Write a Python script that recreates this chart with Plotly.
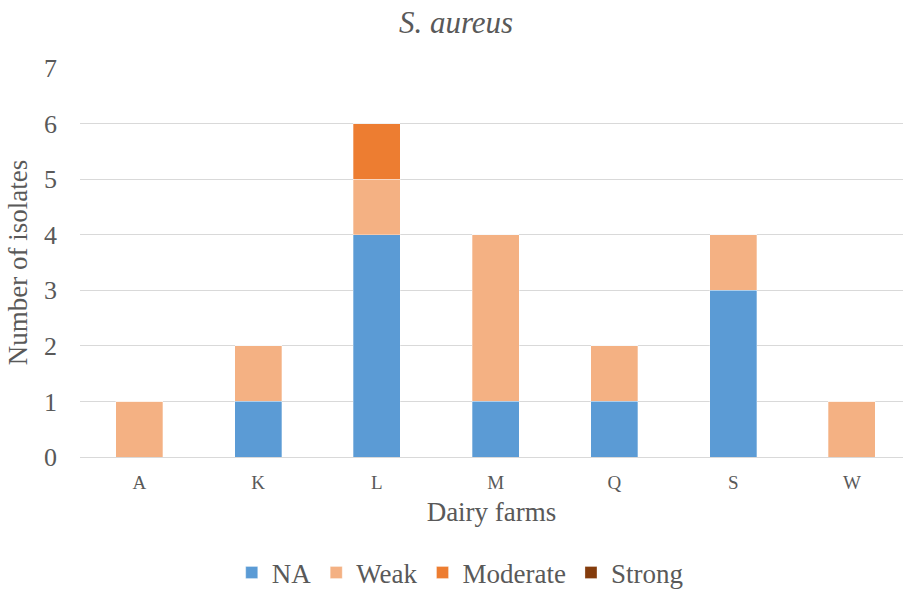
import plotly.graph_objects as go

# Isolate counts per dairy farm, split by biofilm-forming ability
farms = ["A", "K", "L", "M", "Q", "S", "W"]
na_counts = [0, 1, 4, 1, 1, 3, 0]
weak_counts = [1, 1, 1, 3, 1, 1, 1]
moderate_counts = [0, 0, 1, 0, 0, 0, 0]
strong_counts = [0, 0, 0, 0, 0, 0, 0]

series = [
    ("NA", na_counts, "#5B9BD5"),
    ("Weak", weak_counts, "#F4B183"),
    ("Moderate", moderate_counts, "#ED7D31"),
    ("Strong", strong_counts, "#843C0C"),
]

FONT = "Liberation Serif"
GREY = "#595959"

fig = go.Figure()
for name, vals, color in series:
    fig.add_trace(go.Bar(
        x=farms, y=vals, name=name,
        marker=dict(color=color, line=dict(color="rgba(255,255,255,0.6)", width=0.5)),
    ))

fig.update_layout(
    barmode="stack",
    bargap=0.604,
    width=903, height=589,
    margin=dict(l=80, r=0, t=68, b=132, autoexpand=False),
    paper_bgcolor="white", plot_bgcolor="white",
    font=dict(family=FONT, color=GREY),
    title=dict(text="<i>S. aureus</i>", x=0.505, xanchor="center", y=0.962, yanchor="middle",
               font=dict(size=31, color=GREY, family=FONT)),
    legend=dict(orientation="h", x=0.462, xanchor="center", y=-0.298, yanchor="middle",
                font=dict(size=27, color=GREY, family=FONT), itemwidth=30,
                traceorder="normal"),
    xaxis=dict(
        range=[-0.5, 6.43],
        tickfont=dict(size=19, color=GREY, family=FONT),
        showgrid=False, ticks="", ticklabelstandoff=12,
        title=dict(text="Dairy farms", font=dict(size=27, color=GREY, family=FONT), standoff=10),
    ),
    yaxis=dict(
        range=[0, 7], dtick=1,
        showgrid=True, gridcolor="#D9D9D9", gridwidth=1,
        zeroline=True, zerolinecolor="#D9D9D9", zerolinewidth=1,
        tickfont=dict(size=26, color=GREY, family=FONT), ticks="", ticklabelstandoff=22,
        title=dict(text="Number of isolates", font=dict(size=27, color=GREY, family=FONT), standoff=8),
    ),
)

fig.write_html("out.html")
